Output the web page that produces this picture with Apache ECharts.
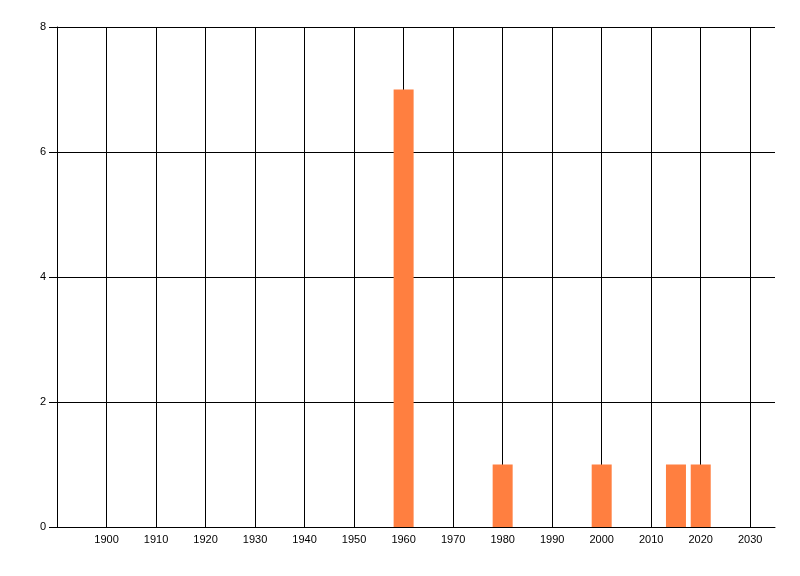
<!DOCTYPE html>
<html>
<head>
<meta charset="utf-8">
<title>chart</title>
<script src="https://cdn.jsdelivr.net/npm/echarts@6/dist/echarts.min.js"></script>
<style>
  html, body { margin: 0; padding: 0; background: #fff; }
  #main { width: 800px; height: 576px; }
</style>
</head>
<body>
<div id="main"></div>
<script>
// years on the x axis and how many items fall on each
var years = [1960, 1980, 2000, 2015, 2020];
var counts = [7, 1, 1, 1, 1];
var xLabels = [1900, 1910, 1920, 1930, 1940, 1950, 1960, 1970, 1980, 1990, 2000, 2010, 2020, 2030];
var yTicks = [0, 2, 4, 6, 8];

var chart = echarts.init(document.getElementById('main'), null, { renderer: 'canvas' });

var option = {
  animation: false,
  backgroundColor: '#fff',
  grid: { left: 57, right: 25, top: 27, bottom: 49 },
  xAxis: {
    type: 'value',
    min: 1890,
    max: 2035,
    interval: 10,
    axisLine: { show: true, lineStyle: { color: '#000', width: 1 } },
    axisTick: { show: false },
    splitLine: { show: true, showMinLine: false, showMaxLine: false, lineStyle: { color: '#000', width: 1 } },
    axisLabel: {
      color: '#000',
      fontFamily: 'Liberation Sans',
      fontSize: 11,
      margin: 7,
      showMinLabel: false,
      showMaxLabel: false,
      formatter: function (v) { return xLabels.indexOf(v) >= 0 ? String(v) : ''; }
    }
  },
  yAxis: {
    type: 'value',
    min: yTicks[0],
    max: yTicks[yTicks.length - 1],
    interval: 2,
    axisLine: { show: true, lineStyle: { color: '#000', width: 1 } },
    axisTick: { show: true, length: 8, lineStyle: { color: '#000', width: 1 } },
    splitLine: { show: true, lineStyle: { color: '#000', width: 1 } },
    axisLabel: {
      color: '#000',
      fontFamily: 'Liberation Sans',
      fontSize: 11,
      margin: 11
    }
  },
  series: [{
    type: 'bar',
    barWidth: 20,
    itemStyle: { color: '#ff7f40' },
    data: years.map(function (y, i) { return [y, counts[i]]; })
  }]
};

chart.setOption(option);
</script>
</body>
</html>
